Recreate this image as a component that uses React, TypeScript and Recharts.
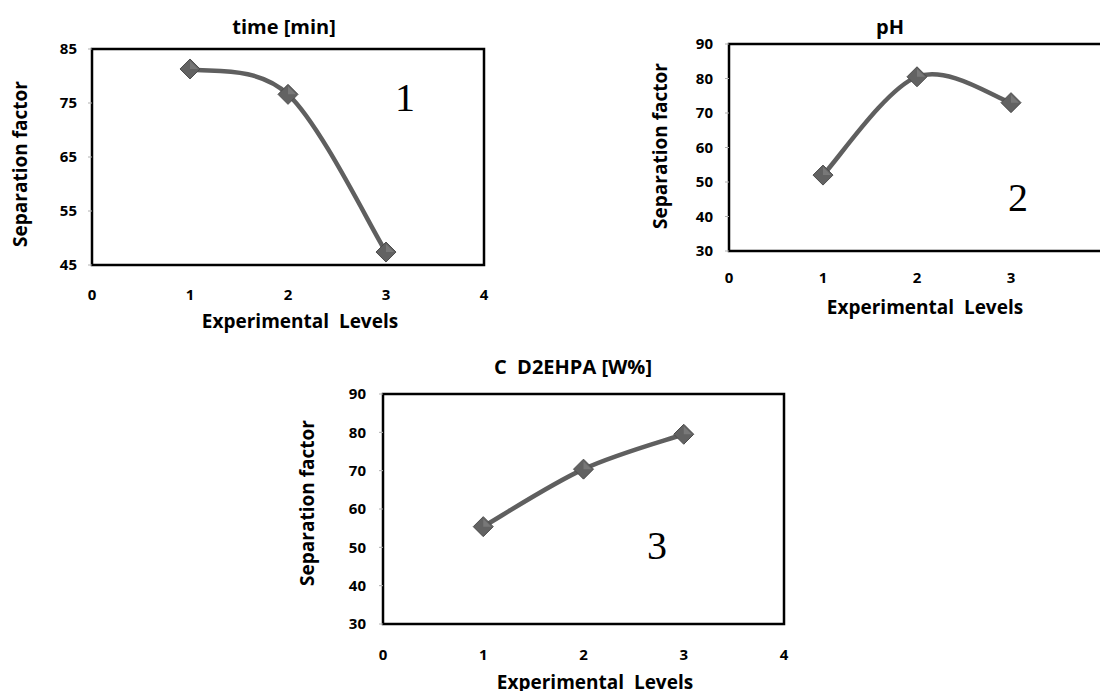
import React from 'react';
import { LineChart, Line, XAxis, YAxis, ReferenceArea } from 'recharts';

const levels = [1, 2, 3];
const xTicks = [0, 1, 2, 3, 4];
const xTicksClipped = [0, 1, 2, 3];

const timeValues = [81.3, 76.6, 47.4];
const timeTicks = [45, 55, 65, 75, 85];

const phValues = [52, 80.5, 73];
const phTicks = [30, 40, 50, 60, 70, 80, 90];

const d2ehpaValues = [55.4, 70.4, 79.5];
const d2ehpaTicks = [30, 40, 50, 60, 70, 80, 90];

// Excel-like smooth curve (Catmull-Rom style bezier)
function excelCurve(context: any) {
  let pts: [number, number][] = [];
  return {
    areaStart() {},
    areaEnd() {},
    lineStart() {
      pts = [];
    },
    point(x: number, y: number) {
      pts.push([+x, +y]);
    },
    lineEnd() {
      if (!pts.length) return;
      context.moveTo(pts[0][0], pts[0][1]);
      for (let i = 0; i < pts.length - 1; i++) {
        const p0 = pts[i - 1] || pts[i];
        const p1 = pts[i];
        const p2 = pts[i + 1];
        const p3 = pts[i + 2] || pts[i + 1];
        const c1x = p1[0] + (p2[0] - p0[0]) / 6;
        const c1y = p1[1] + (p2[1] - p0[1]) / 6;
        const c2x = p2[0] - (p3[0] - p1[0]) / 6;
        const c2y = p2[1] - (p3[1] - p1[1]) / 6;
        context.bezierCurveTo(c1x, c1y, c2x, c2y, p2[0], p2[1]);
      }
    },
  };
}

const Diamond = (props: any) => {
  const { cx, cy } = props;
  if (cx == null || cy == null) return null;
  const r = 10;
  return (
    <g>
      <path
        d={`M${cx},${cy - r} L${cx + r},${cy} L${cx},${cy + r} L${cx - r},${cy} Z`}
        fill="#626262"
        stroke="#4c4c4c"
        strokeWidth={1}
      />
      <path
        d={`M${cx},${cy - r + 2} L${cx + r - 2},${cy} L${cx},${cy} Z`}
        fill="#8a8a8a"
        opacity={0.55}
      />
    </g>
  );
};

const TICK_FONT = '"Open Sans", sans-serif';
const TICK_SIZE = 15;

const XTick = (props: any) => {
  const { x, y, payload } = props;
  return (
    <text
      x={x}
      y={y}
      dy="0.71em"
      textAnchor="middle"
      fontFamily={TICK_FONT}
      fontWeight={700}
      fontSize={TICK_SIZE}
      fill="#000"
    >
      {payload.value}
    </text>
  );
};

const YTick = (props: any) => {
  const { x, y, payload } = props;
  return (
    <text
      x={x}
      y={y}
      dy="0.36em"
      textAnchor="end"
      fontFamily={TICK_FONT}
      fontWeight={700}
      fontSize={TICK_SIZE}
      fill="#000"
    >
      {payload.value}
    </text>
  );
};

type PanelProps = {
  left: number;
  top: number;
  plotLeft: number;
  plotRight: number;
  plotTop: number;
  plotBottom: number;
  values: number[];
  yTicks: number[];
  xTickList: number[];
  xTickGap: number;
  yTickGap: number;
};

function Panel(p: PanelProps) {
  const width = p.plotRight - p.left + 20;
  const height = p.plotBottom - p.top + 60;
  const xAxisH = 40;
  const data = levels.map((x, i) => ({ x, v: p.values[i] }));
  const yMin = p.yTicks[0];
  const yMax = p.yTicks[p.yTicks.length - 1];
  return (
    <div style={{ position: 'absolute', left: p.left, top: p.top, width, height }}>
      <LineChart
        width={width}
        height={height}
        data={data}
        margin={{
          top: p.plotTop - p.top,
          right: width - (p.plotRight - p.left),
          bottom: height - (p.plotBottom - p.top) - xAxisH,
          left: 0,
        }}
      >
        <XAxis
          type="number"
          dataKey="x"
          domain={[0, 4]}
          ticks={p.xTickList}
          allowDataOverflow
          axisLine={false}
          tickLine={false}
          tickSize={0}
          tickMargin={p.xTickGap}
          height={xAxisH}
          tick={<XTick />}
        />
        <YAxis
          type="number"
          domain={[yMin, yMax]}
          ticks={p.yTicks}
          allowDataOverflow
          axisLine={false}
          tickLine={{ stroke: '#b0b0b0' }}
          tickSize={4}
          tickMargin={p.yTickGap - 4}
          width={p.plotLeft - p.left}
          tick={<YTick />}
        />
        <ReferenceArea
          x1={0}
          x2={4}
          y1={yMin}
          y2={yMax}
          fill="#fff"
          fillOpacity={0}
          stroke="#000"
          strokeWidth={2.5}
          strokeOpacity={1}
        />
        <Line
          dataKey="v"
          type={excelCurve as any}
          stroke="#5f5f5f"
          strokeWidth={4.5}
          dot={<Diamond />}
          activeDot={false}
          isAnimationActive={false}
        />
      </LineChart>
    </div>
  );
}

const Txt = ({ x, y, size, children, rotate, serif, weight }: any) => (
  <div
    style={{
      position: 'absolute',
      left: x,
      top: y,
      transform: `translate(-50%, -50%)${rotate ? ' rotate(-90deg)' : ''}`,
      whiteSpace: 'pre',
      lineHeight: 1,
      fontSize: size,
      fontWeight: weight ?? 700,
      fontFamily: serif ? '"Liberation Serif", "DejaVu Serif", serif' : '"Open Sans", sans-serif',
      color: '#000',
    }}
  >
    {children}
  </div>
);

export default function App() {
  return (
    <div
      style={{
        position: 'absolute',
        left: 0,
        top: 0,
        width: 1100,
        height: 691,
        overflow: 'hidden',
        background: '#fff',
      }}
    >
      <Panel
        left={0}
        top={0}
        plotLeft={92}
        plotRight={484}
        plotTop={49}
        plotBottom={265}
        values={timeValues}
        yTicks={timeTicks}
        xTickList={xTicks}
        xTickGap={24}
        yTickGap={15}
      />
      <Panel
        left={640}
        top={0}
        plotLeft={729}
        plotRight={1105}
        plotTop={44}
        plotBottom={251}
        values={phValues}
        yTicks={phTicks}
        xTickList={xTicksClipped}
        xTickGap={21}
        yTickGap={16}
      />
      <Panel
        left={300}
        top={340}
        plotLeft={383}
        plotRight={784}
        plotTop={394}
        plotBottom={624}
        values={d2ehpaValues}
        yTicks={d2ehpaTicks}
        xTickList={xTicks}
        xTickGap={25}
        yTickGap={17}
      />

      <Txt x={284} y={27} size={20}>time [min]</Txt>
      <Txt x={20} y={164} size={19} rotate>Separation factor</Txt>
      <Txt x={300} y={321} size={19}>Experimental  Levels</Txt>
      <Txt x={405} y={98} size={40} serif weight={400}>1</Txt>

      <Txt x={890} y={27} size={20}>pH</Txt>
      <Txt x={660} y={146} size={19} rotate>Separation factor</Txt>
      <Txt x={925} y={307} size={19}>Experimental  Levels</Txt>
      <Txt x={1018} y={198} size={40} serif weight={400}>2</Txt>

      <Txt x={573} y={367} size={20}>C  D2EHPA [W%]</Txt>
      <Txt x={307} y={503} size={19} rotate>Separation factor</Txt>
      <Txt x={595} y={682} size={19}>Experimental  Levels</Txt>
      <Txt x={657} y={546} size={40} serif weight={400}>3</Txt>
    </div>
  );
}
